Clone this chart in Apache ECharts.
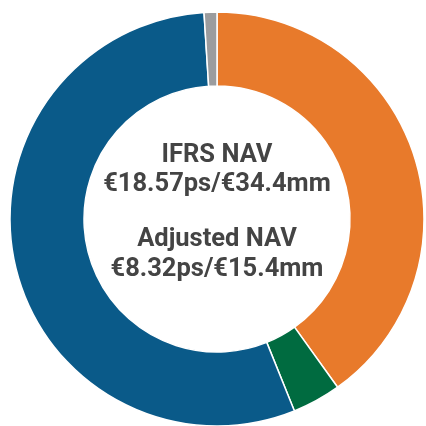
<!DOCTYPE html>
<html>
<head>
<meta charset="utf-8">
<script src="https://cdn.jsdelivr.net/npm/echarts@6/dist/echarts.min.js"></script>
<style>
  html, body { margin: 0; padding: 0; background: #fff; }
  #chart { width: 426px; height: 426px; }
</style>
</head>
<body>
<div id="chart"></div>
<script>
const categories = ['Orange', 'Green', 'Blue', 'Grey']
const values = [40.1, 3.8, 55.1, 1.0]
const colors = ['#e87a2b', '#006b40', '#0a5a89', '#9b9c9e']
const centerLines = ['IFRS NAV', '€18.57ps/€34.4mm', 'Adjusted NAV', '€8.32ps/€15.4mm']

const chart = echarts.init(document.getElementById('chart'))

const textStyle = {
  fontFamily: 'Roboto',
  fontWeight: 'bold',
  fontSize: 25.5,
  color: '#444444'
}
const lineY = [143, 172, 227, 257]

chart.setOption({
  animation: false,
  title: centerLines.map((t, i) => ({
    text: t,
    left: 217,
    top: lineY[i],
    padding: 0,
    textAlign: 'center',
    textStyle: textStyle
  })),
  series: [
    {
      type: 'pie',
      center: [217, 219],
      radius: [133, 207],
      startAngle: 90,
      clockwise: true,
      label: { show: false },
      labelLine: { show: false },
      emphasis: { disabled: true },
      itemStyle: {
        borderColor: '#ffffff',
        borderWidth: 1.5
      },
      data: categories.map((c, i) => ({
        name: c,
        value: values[i],
        itemStyle: { color: colors[i] }
      }))
    }
  ]
})
</script>
</body>
</html>
